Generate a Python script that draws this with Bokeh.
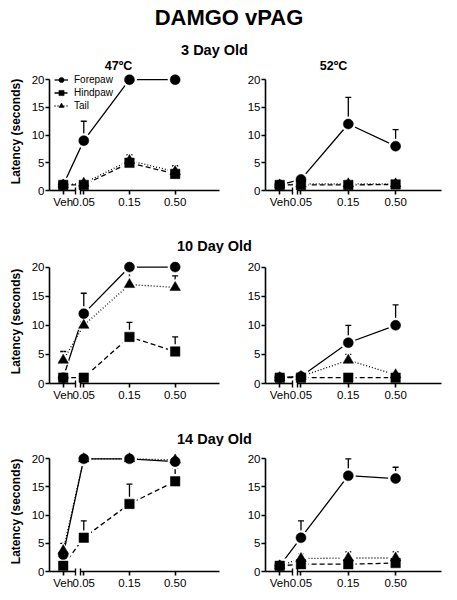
from bokeh.plotting import figure
from bokeh.models import (Range1d, LinearAxis, FixedTicker, Whisker, TeeHead,
                          ColumnDataSource, Legend, LegendItem, Label)
from bokeh.layouts import column, row
from bokeh.embed import file_html
from bokeh.resources import INLINE

FONT = "Liberation Sans"
BLACK = "#000000"

# ---------------- data ----------------
x_labels = ["Veh", "0.05", "0.15", "0.50"]
series_names = ["Forepaw", "Hindpaw", "Tail"]
age_titles = ["3 Day Old", "10 Day Old", "14 Day Old"]
temp_titles = ["47ºC", "52ºC"]
main_title = "DAMGO vPAG"
y_title = "Latency (seconds)"
y_ticks = [0, 5, 10, 15, 20]

# 3 Day Old, 47ºC
d3_47_forepaw = [1, 9, 20, 20]
d3_47_forepaw_sem = [0, 3.5, 0, 0]
d3_47_hindpaw = [1, 1, 5, 3]
d3_47_hindpaw_sem = [0, 0, 1.4, 1.5]
d3_47_tail = [1, 1.3, 5.4, 3.4]
d3_47_tail_sem = [0, 0, 1.0, 0.9]
# 3 Day Old, 52ºC
d3_52_forepaw = [1, 2, 12, 8]
d3_52_forepaw_sem = [0, 1, 4.8, 3]
d3_52_hindpaw = [1, 1, 1, 1.1]
d3_52_hindpaw_sem = [0, 0, 0, 0]
d3_52_tail = [1, 1.2, 1.2, 1.2]
d3_52_tail_sem = [0, 0, 0.8, 0]
# 10 Day Old, 47ºC
d10_47_forepaw = [1, 12, 20, 20]
d10_47_forepaw_sem = [0, 3.5, 0, 0]
d10_47_hindpaw = [1, 1, 8, 5.5]
d10_47_hindpaw_sem = [0, 0, 2.5, 2.5]
d10_47_tail = [4, 10, 17, 16.5]
d10_47_tail_sem = [1.5, 0, 2, 2]
# 10 Day Old, 52ºC
d10_52_forepaw = [1, 1.2, 7, 10]
d10_52_forepaw_sem = [0, 0.6, 3, 3.5]
d10_52_hindpaw = [1, 1, 1, 1]
d10_52_hindpaw_sem = [0, 0, 0, 0]
d10_52_tail = [1, 1.2, 4, 1.5]
d10_52_tail_sem = [0, 0, 1, 0.5]
# 14 Day Old, 47ºC
d14_47_forepaw = [3, 20, 20, 19.5]
d14_47_forepaw_sem = [0, 0, 0, 0]
d14_47_hindpaw = [1, 6, 12, 16]
d14_47_hindpaw_sem = [0, 3, 3.5, 2.3]
d14_47_tail = [3.7, 20, 20, 19.8]
d14_47_tail_sem = [1.3, 0, 0, 0]
# 14 Day Old, 52ºC
d14_52_forepaw = [1, 6, 17, 16.5]
d14_52_forepaw_sem = [0, 3, 3, 2]
d14_52_hindpaw = [1, 1.3, 1.3, 1.5]
d14_52_hindpaw_sem = [0, 0, 0, 0]
d14_52_tail = [1, 2.3, 2.4, 2.4]
d14_52_tail_sem = [0, 0.8, 1.1, 1.1]

# ---------------- layout / style ----------------
PAGE_W = 457
SLOT = {"Veh": 11, "0.05": 20, "0.15": 40, "0.50": 60}
X_START, X_END = 5, 79.4
BREAK_A, BREAK_B = 16.5, 18.6
Y_MAX = 21.3

STYLE = {
    "Forepaw": dict(marker="circle", size=10, dash="solid"),
    "Hindpaw": dict(marker="square", size=9.5, dash="5 3"),
    "Tail": dict(marker="triangle", size=10.5, dash="1 2"),
}
DRAW_ORDER = ["Tail", "Forepaw", "Hindpaw"]


def style_axis(ax):
    ax.axis_line_color = BLACK
    ax.axis_line_width = 1.6
    ax.major_tick_line_color = BLACK
    ax.major_tick_line_width = 1.6
    ax.major_tick_out = 4
    ax.major_tick_in = 0
    ax.minor_tick_line_color = None
    ax.major_label_text_font = FONT
    ax.major_label_text_font_size = "11.5px"
    ax.major_label_text_color = BLACK
    ax.major_label_standoff = 1


def bare_axis(ax):
    style_axis(ax)
    ax.major_tick_out = 0
    ax.major_label_standoff = 0


def make_panel(data, frame_w, frame_h, bl, br, bt, bb, with_ytitle=False, legend=False):
    p = figure(frame_width=frame_w, frame_height=frame_h,
               x_range=Range1d(X_START, X_END), y_range=Range1d(0, Y_MAX),
               output_backend="svg", toolbar_location=None,
               min_border_left=bl, min_border_right=br,
               min_border_top=bt, min_border_bottom=bb,
               outline_line_color=None)
    p.xgrid.visible = False
    p.ygrid.visible = False

    xs = [SLOT[l] for l in x_labels]
    lines, marks = {}, {}
    for name in series_names:
        vals, sem = data[name]
        lines[name] = p.line(xs, vals, line_color=BLACK, line_width=1.3,
                             line_dash=STYLE[name]["dash"])
    for name in DRAW_ORDER:
        vals, sem = data[name]
        p.scatter(xs, vals, marker=STYLE[name]["marker"],
                  size=STYLE[name]["size"] + 5, fill_color="white", line_color=None)
    for name in DRAW_ORDER:
        vals, sem = data[name]
        marks[name] = p.scatter(xs, vals, marker=STYLE[name]["marker"],
                                size=STYLE[name]["size"], fill_color=BLACK,
                                line_color=BLACK, line_width=0.5)
    for name in series_names:
        vals, sem = data[name]
        idx = [i for i in range(len(vals)) if sem[i] > 0]
        if not idx:
            continue
        src = ColumnDataSource(dict(x=[xs[i] for i in idx],
                                    lower=[vals[i] for i in idx],
                                    upper=[vals[i] + sem[i] for i in idx]))
        p.add_layout(Whisker(source=src, base="x", lower="lower", upper="upper",
                             dimension="height", line_color=BLACK, line_width=1.3,
                             lower_head=None,
                             upper_head=TeeHead(size=6, line_color=BLACK, line_width=1.3)))

    # y axis
    yax = p.yaxis[0]
    yax.ticker = FixedTicker(ticks=y_ticks)
    yax.bounds = (0, 20)
    style_axis(yax)
    if with_ytitle:
        yax.axis_label = y_title
        yax.axis_label_text_font = FONT
        yax.axis_label_text_font_size = "12px"
        yax.axis_label_text_font_style = "bold"
        yax.axis_label_text_color = BLACK
        yax.axis_label_standoff = 6

    # broken x axis: two bare line segments (zero size), then ticks + labels
    seg_a = p.xaxis[0]
    seg_a.ticker = FixedTicker(ticks=[])
    seg_a.bounds = (X_START, BREAK_A)
    bare_axis(seg_a)

    seg_b = LinearAxis(ticker=FixedTicker(ticks=[]), bounds=(BREAK_B, X_END))
    bare_axis(seg_b)
    p.add_layout(seg_b, "below")

    lab = LinearAxis(ticker=FixedTicker(ticks=[SLOT[l] for l in x_labels],
                                        minor_ticks=[BREAK_A, BREAK_B]),
                     major_label_overrides={SLOT[l]: l for l in x_labels},
                     bounds=(X_START, X_END))
    style_axis(lab)
    lab.axis_line_color = None
    lab.minor_tick_line_color = BLACK
    lab.minor_tick_line_width = 1.4
    lab.minor_tick_in = 3
    lab.minor_tick_out = 4
    p.add_layout(lab, "below")

    if legend:
        row_h = 13
        leg = Legend(items=[LegendItem(label=n, renderers=[lines[n], marks[n]])
                            for n in series_names],
                     location=(5, frame_h - 0.5 - 3 * row_h),
                     orientation="vertical", margin=0, padding=0, spacing=0,
                     glyph_width=14, glyph_height=row_h, label_height=row_h,
                     label_standoff=6, label_text_font=FONT,
                     label_text_font_size="10px", label_text_color=BLACK,
                     background_fill_alpha=0, border_line_alpha=0)
        p.add_layout(leg)
    return p


def header(height, texts):
    h = figure(width=PAGE_W, height=height, x_range=Range1d(0, PAGE_W),
               y_range=Range1d(height, 0), output_backend="svg",
               toolbar_location=None, x_axis_location=None, y_axis_location=None,
               min_border=0, outline_line_color=None)
    h.grid.visible = False
    for (txt, x, y, size) in texts:
        h.add_layout(Label(x=x, y=y, text=txt, text_font=FONT, text_font_size=size,
                           text_font_style="bold", text_color=BLACK,
                           text_align="center", text_baseline="middle"))
    return h


def pack(f, fs, h, hs, t, ts):
    return {"Forepaw": (f, fs), "Hindpaw": (h, hs), "Tail": (t, ts)}


panels = [
    (pack(d3_47_forepaw, d3_47_forepaw_sem, d3_47_hindpaw, d3_47_hindpaw_sem, d3_47_tail, d3_47_tail_sem),
     pack(d3_52_forepaw, d3_52_forepaw_sem, d3_52_hindpaw, d3_52_hindpaw_sem, d3_52_tail, d3_52_tail_sem)),
    (pack(d10_47_forepaw, d10_47_forepaw_sem, d10_47_hindpaw, d10_47_hindpaw_sem, d10_47_tail, d10_47_tail_sem),
     pack(d10_52_forepaw, d10_52_forepaw_sem, d10_52_hindpaw, d10_52_hindpaw_sem, d10_52_tail, d10_52_tail_sem)),
    (pack(d14_47_forepaw, d14_47_forepaw_sem, d14_47_hindpaw, d14_47_hindpaw_sem, d14_47_tail, d14_47_tail_sem),
     pack(d14_52_forepaw, d14_52_forepaw_sem, d14_52_hindpaw, d14_52_hindpaw_sem, d14_52_tail, d14_52_tail_sem)),
]

# per row: frame height, border top, border bottom
ROW_GEOM = [(118, 0, 22), (124, 6, 22), (120, 5, 20)]
LEFT_GEOM = (170, 49, 20)
RIGHT_GEOM = (176, 26, 16)

children = [header(72, [(main_title, 228.5, 16.5, "22px"),
                        (age_titles[0], 214, 49.5, "14.5px"),
                        (temp_titles[0], 118, 65, "12.5px"),
                        (temp_titles[1], 333, 65, "12.5px")])]

for r, (left_data, right_data) in enumerate(panels):
    fh, bt, bb = ROW_GEOM[r]
    if r > 0:
        children.append(header(41, [(age_titles[r], 214, 33, "14.5px")]))
    fl = make_panel(left_data, LEFT_GEOM[0], fh, LEFT_GEOM[1], LEFT_GEOM[2], bt, bb,
                    with_ytitle=True, legend=(r == 0))
    fr = make_panel(right_data, RIGHT_GEOM[0], fh, RIGHT_GEOM[1], RIGHT_GEOM[2], bt, bb)
    children.append(row(fl, fr))

layout = column(*children)

open("out.html", "w").write(file_html(layout, INLINE))
